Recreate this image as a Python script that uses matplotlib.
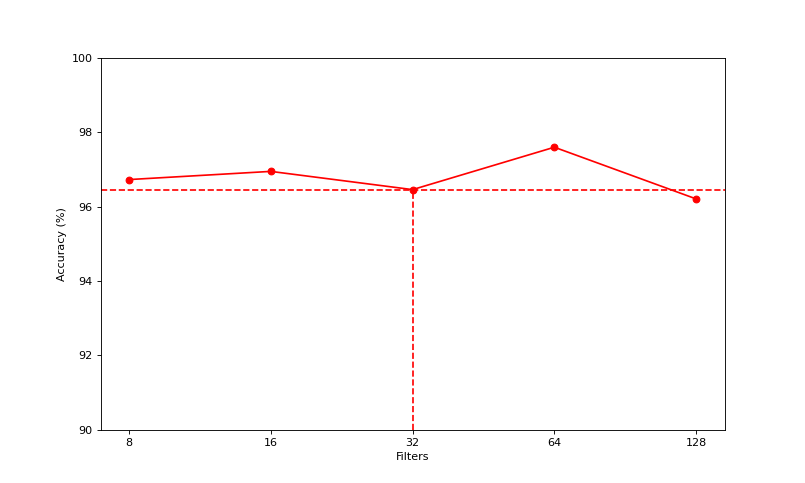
import matplotlib
matplotlib.use('Agg')
import matplotlib.pyplot as plt

filters = ['8', '16', '32', '64', '128']
accuracy = [96.73, 96.95, 96.46, 97.60, 96.21]
best = 2  # index of the marked filter count (32)

fig, ax = plt.subplots(figsize=(10, 6), dpi=80.5)
x = list(range(len(filters)))
ax.plot(x, accuracy, 'o-', color='red')
ax.axhline(accuracy[best], color='red', linestyle='--')
ax.vlines(x[best], 90, accuracy[best], color='red', linestyle='--')
ax.set_xticks(x)
ax.set_xticklabels(filters)
ax.set_ylim(90, 100)
ax.set_xlabel('Filters')
ax.set_ylabel('Accuracy (%)')
plt.savefig('out.png')
